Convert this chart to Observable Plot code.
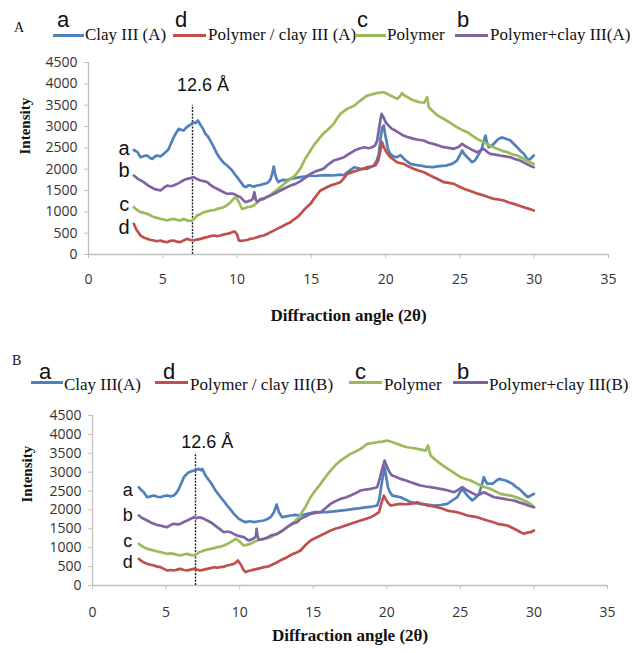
<!DOCTYPE html>
<html><head><meta charset="utf-8">
<script src="https://cdn.jsdelivr.net/npm/d3@7"></script>
<script src="https://cdn.jsdelivr.net/npm/@observablehq/plot@0.6"></script>
<style>
body{margin:0;background:#fff;}
#root{position:relative;width:632px;height:653px;overflow:hidden;background:#fff;}
.abs{position:absolute;white-space:nowrap;line-height:1;}
.ser{font-family:"Liberation Serif","Times New Roman",serif;font-size:17px;color:#111;}
.pan{font-family:"Liberation Serif","Times New Roman",serif;font-size:14px;color:#111;}
.let{font-family:"Liberation Sans",Arial,sans-serif;font-size:22px;color:#111;}
.sw{position:absolute;height:3px;}
svg{position:absolute;left:0;}
</style></head><body><div id="root"></div>
<script>
// ---------- data ----------
const xTicks = [0, 5, 10, 15, 20, 25, 30, 35];
const yTicks = [0, 500, 1000, 1500, 2000, 2500, 3000, 3500, 4000, 4500];
const keys = ["a", "d", "c", "b"];
const colors = ["#4F81BD", "#C0504D", "#9BBB59", "#8064A2"];
const namesA = ["Clay III (A)", "Polymer / clay III (A)", "Polymer", "Polymer+clay III(A)"];
const namesB = ["Clay III(A)", "Polymer / clay III(B)", "Polymer", "Polymer+clay III(B)"];
const xTitle = "Diffraction angle (2θ)";
const yTitle = "Intensity";
const peakLabel = "12.6 Å";
const peakX = 7, peakTop = 3500;

// Panel A
const aA = [[3.05,2450],[3.3,2400],[3.5,2280],[3.75,2310],[3.95,2320],[4.15,2260],[4.3,2240],[4.45,2290],[4.6,2320],[4.85,2300],[5.07,2360],[5.25,2420],[5.4,2476],[5.55,2600],[5.74,2750],[5.9,2850],[6.08,2945],[6.25,2920],[6.4,2905],[6.6,2980],[6.75,3020],[6.9,3050],[7.04,3100],[7.2,3080],[7.36,3140],[7.5,3060],[7.7,2950],[7.87,2827],[8.05,2760],[8.2,2670],[8.4,2540],[8.55,2437],[8.7,2330],[8.88,2240],[9.1,2150],[9.33,2085],[9.5,2030],[9.67,1968],[9.85,1880],[10,1812],[10.2,1720],[10.34,1656],[10.45,1600],[10.6,1578],[10.75,1620],[10.9,1617],[11.1,1590],[11.35,1617],[11.6,1630],[11.8,1656],[12.0,1670],[12.1,1695],[12.25,1760],[12.36,1890],[12.47,2060],[12.58,1851],[12.7,1740],[12.8,1695],[12.95,1730],[13.1,1750],[13.35,1740],[13.6,1773],[13.9,1790],[14.27,1812],[14.6,1830],[14.9,1851],[15.2,1840],[15.6,1851],[16.0,1860],[16.5,1851],[16.85,1870],[17.2,1860],[17.5,1950],[17.9,2046],[18.3,2010],[18.75,2007],[19.0,2050],[19.2,2085],[19.4,2200],[19.54,2359],[19.65,2700],[19.77,2983],[19.88,3022],[19.95,2850],[20.05,2671],[20.15,2480],[20.3,2359],[20.5,2300],[20.77,2280],[21.0,2330],[21.3,2220],[21.67,2124],[22.0,2100],[22.3,2085],[22.7,2060],[23.2,2046],[23.6,2070],[24.1,2085],[24.5,2130],[24.8,2202],[25.0,2330],[25.15,2437],[25.3,2350],[25.5,2280],[25.82,2163],[26.0,2200],[26.15,2280],[26.35,2400],[26.5,2515],[26.6,2650],[26.72,2788],[26.8,2650],[26.94,2515],[27.1,2540],[27.28,2593],[27.45,2660],[27.6,2710],[27.8,2740],[27.95,2733],[28.2,2700],[28.4,2671],[28.6,2600],[28.85,2515],[29.1,2420],[29.3,2359],[29.45,2280],[29.6,2202],[29.8,2260],[29.97,2320]];
const dA = [[3.05,719],[3.2,600],[3.5,445],[3.7,400],[3.95,367],[4.2,340],[4.4,328],[4.6,310],[4.85,328],[5.05,300],[5.3,289],[5.5,320],[5.74,328],[5.95,300],[6.19,289],[6.4,330],[6.64,367],[6.85,340],[7.09,328],[7.3,350],[7.54,367],[7.76,390],[7.99,406],[8.2,430],[8.43,445],[8.66,430],[8.88,445],[9.1,470],[9.33,484],[9.5,500],[9.67,523],[9.8,540],[9.89,523],[10.0,470],[10.12,328],[10.3,320],[10.45,328],[10.68,340],[10.9,367],[11.13,380],[11.35,406],[11.57,430],[11.8,445],[12.02,480],[12.25,523],[12.47,560],[12.7,601],[12.92,640],[13.15,680],[13.37,720],[13.6,758],[13.82,820],[14.05,875],[14.27,950],[14.6,1080],[14.94,1187],[15.25,1340],[15.61,1500],[15.95,1560],[16.29,1617],[16.6,1650],[16.96,1695],[17.2,1790],[17.41,1890],[17.75,1930],[18.08,1968],[18.4,2000],[18.75,2046],[19.0,2060],[19.31,2085],[19.5,2200],[19.65,2437],[19.76,2632],[19.88,2520],[19.99,2437],[20.15,2350],[20.32,2280],[20.55,2220],[20.77,2163],[21.0,2140],[21.22,2124],[21.55,2060],[21.89,2007],[22.2,1970],[22.57,1929],[22.9,1870],[23.24,1812],[23.6,1750],[23.91,1695],[24.25,1680],[24.59,1656],[24.9,1600],[25.26,1539],[25.6,1500],[25.93,1460],[26.25,1420],[26.61,1382],[26.95,1340],[27.28,1304],[27.6,1290],[27.95,1265],[28.3,1220],[28.63,1187],[28.95,1150],[29.3,1109],[29.65,1070],[29.97,1031]];
const cA = [[3.05,1109],[3.25,1050],[3.5,992],[3.7,980],[3.95,953],[4.15,920],[4.4,875],[4.6,860],[4.85,836],[5.05,820],[5.3,797],[5.5,820],[5.74,836],[5.95,810],[6.19,797],[6.4,830],[6.64,800],[6.8,790],[6.98,797],[7.15,850],[7.31,914],[7.55,950],[7.76,992],[8.0,1010],[8.2,1031],[8.45,1040],[8.66,1070],[8.9,1090],[9.1,1109],[9.35,1160],[9.56,1226],[9.75,1300],[9.89,1343],[10.0,1300],[10.12,1226],[10.25,1130],[10.34,1070],[10.5,1080],[10.68,1109],[10.9,1120],[11.13,1148],[11.35,1220],[11.57,1304],[11.8,1320],[12.02,1343],[12.25,1400],[12.47,1460],[12.7,1520],[12.92,1578],[13.25,1680],[13.6,1773],[13.9,1850],[14.27,2020],[14.6,2250],[14.94,2437],[15.25,2600],[15.6,2750],[15.8,2830],[16.05,2905],[16.3,2990],[16.5,3061],[16.75,3200],[16.96,3296],[17.2,3360],[17.4,3413],[17.65,3450],[17.9,3491],[18.1,3550],[18.3,3608],[18.5,3660],[18.75,3725],[18.95,3740],[19.2,3765],[19.5,3790],[19.88,3803],[20.1,3770],[20.3,3725],[20.55,3690],[20.77,3647],[20.95,3700],[21.1,3780],[21.3,3720],[21.67,3647],[22.0,3600],[22.3,3569],[22.6,3560],[22.8,3686],[22.9,3452],[23.2,3350],[23.5,3257],[23.8,3200],[24.1,3140],[24.45,3060],[24.8,2983],[25.15,2920],[25.5,2866],[25.85,2780],[26.15,2710],[26.5,2650],[26.8,2593],[27.15,2530],[27.5,2476],[27.85,2430],[28.2,2398],[28.5,2350],[28.85,2320],[29.2,2260],[29.5,2202],[29.75,2160],[29.97,2124]];
const bA = [[3.05,1850],[3.3,1780],[3.72,1695],[4.0,1620],[4.4,1540],[4.6,1520],[4.85,1500],[5.05,1560],[5.3,1617],[5.5,1600],[5.74,1617],[5.95,1650],[6.19,1695],[6.4,1740],[6.64,1773],[6.85,1790],[7.09,1812],[7.3,1770],[7.54,1734],[7.75,1720],[7.99,1700],[8.2,1630],[8.43,1578],[8.65,1540],[8.88,1500],[9.1,1460],[9.33,1421],[9.55,1430],[9.78,1421],[10.0,1380],[10.23,1343],[10.4,1280],[10.57,1226],[10.75,1250],[10.9,1265],[11.05,1300],[11.17,1460],[11.25,1300],[11.35,1230],[11.55,1280],[11.8,1304],[12.0,1350],[12.25,1382],[12.6,1440],[12.92,1500],[13.25,1560],[13.6,1617],[13.9,1650],[14.27,1720],[14.6,1800],[14.94,1890],[15.3,1950],[15.8,2007],[16.1,2100],[16.5,2202],[16.85,2240],[17.2,2280],[17.5,2350],[17.9,2437],[18.2,2480],[18.56,2515],[18.85,2490],[19.1,2515],[19.3,2560],[19.43,2671],[19.55,2950],[19.72,3296],[19.8,3250],[19.88,3200],[20.0,3100],[20.2,3022],[20.4,2950],[20.65,2905],[20.9,2850],[21.2,2788],[21.5,2750],[21.9,2710],[22.2,2690],[22.56,2671],[22.9,2620],[23.2,2593],[23.5,2560],[23.9,2515],[24.25,2500],[24.6,2476],[24.9,2520],[25.15,2593],[25.4,2530],[25.7,2476],[25.95,2430],[26.15,2398],[26.4,2440],[26.6,2476],[26.85,2400],[27.05,2359],[27.4,2340],[27.7,2320],[28.05,2300],[28.4,2280],[28.7,2240],[29.05,2202],[29.4,2140],[29.7,2085],[29.97,2046]];

// Panel B
const aB = [[3.15,2600],[3.3,2530],[3.49,2470],[3.72,2337],[3.95,2360],[4.17,2381],[4.4,2350],[4.62,2337],[4.85,2370],[5.08,2381],[5.3,2360],[5.53,2381],[5.7,2450],[5.87,2558],[6.05,2720],[6.21,2867],[6.4,2950],[6.55,3000],[6.7,3020],[6.89,3043],[7.05,3060],[7.23,3087],[7.35,3050],[7.46,3087],[7.57,3000],[7.68,2910],[7.85,2820],[8.02,2734],[8.2,2620],[8.36,2514],[8.55,2420],[8.7,2337],[8.93,2230],[9.15,2117],[9.4,2000],[9.61,1896],[9.78,1830],[9.95,1764],[10.15,1720],[10.4,1676],[10.7,1700],[10.97,1676],[11.3,1700],[11.65,1720],[11.9,1760],[12.1,1808],[12.33,1940],[12.51,2143],[12.67,1940],[12.89,1808],[13.15,1830],[13.46,1852],[13.8,1870],[14.14,1852],[14.6,1900],[15.05,1940],[15.5,1940],[15.95,1940],[16.4,1960],[16.86,1984],[17.3,2000],[17.77,2029],[18.2,2050],[18.67,2073],[19.0,2090],[19.35,2117],[19.5,2300],[19.65,2690],[19.85,3131],[19.95,2900],[20.08,2602],[20.2,2480],[20.37,2381],[20.65,2360],[20.94,2337],[21.3,2270],[21.62,2205],[21.95,2180],[22.3,2161],[22.75,2140],[23.2,2117],[23.65,2130],[24.11,2161],[24.45,2250],[24.79,2337],[24.95,2450],[25.13,2558],[25.3,2470],[25.47,2381],[25.81,2249],[26.05,2330],[26.27,2426],[26.45,2650],[26.6,2867],[26.7,2780],[26.83,2690],[27.0,2700],[27.17,2690],[27.4,2760],[27.63,2822],[27.85,2800],[28.08,2778],[28.3,2740],[28.54,2690],[28.75,2620],[28.99,2558],[29.2,2480],[29.45,2381],[29.6,2340],[29.79,2381],[30.0,2426]];
const dB = [[3.15,706],[3.4,630],[3.72,573],[3.95,550],[4.17,529],[4.4,500],[4.62,485],[4.85,440],[5.08,397],[5.3,410],[5.53,397],[5.75,420],[5.98,441],[6.2,410],[6.44,397],[6.65,420],[6.89,441],[7.1,420],[7.34,397],[7.57,420],[7.8,441],[8.02,460],[8.25,485],[8.47,470],[8.7,485],[8.93,500],[9.15,529],[9.38,550],[9.61,573],[9.75,610],[9.88,662],[10.0,600],[10.11,529],[10.25,420],[10.4,353],[10.55,380],[10.74,397],[10.97,420],[11.19,441],[11.4,460],[11.65,485],[11.9,500],[12.1,529],[12.3,570],[12.55,617],[12.9,690],[13.23,750],[13.55,820],[13.91,882],[14.14,926],[14.5,1080],[14.82,1191],[15.15,1260],[15.5,1323],[15.85,1390],[16.18,1455],[16.5,1500],[16.86,1544],[17.2,1590],[17.54,1632],[17.9,1680],[18.22,1720],[18.55,1760],[18.9,1808],[19.2,1870],[19.47,1940],[19.65,2200],[19.8,2381],[19.9,2300],[19.98,2249],[20.1,2180],[20.26,2117],[20.6,2140],[20.94,2161],[21.3,2150],[21.62,2161],[21.85,2180],[22.07,2205],[22.4,2160],[22.75,2117],[23.1,2100],[23.43,2073],[23.8,2030],[24.11,1984],[24.45,1960],[24.79,1940],[25.13,1900],[25.47,1852],[25.8,1830],[26.15,1808],[26.5,1760],[26.83,1720],[27.2,1680],[27.52,1632],[27.85,1610],[28.2,1588],[28.55,1520],[28.88,1455],[29.1,1410],[29.33,1367],[29.55,1400],[29.78,1411],[30.0,1455]];
const cB = [[3.15,1102],[3.4,1030],[3.72,970],[3.95,950],[4.17,926],[4.4,900],[4.62,882],[4.85,860],[5.08,838],[5.3,850],[5.53,838],[5.75,810],[5.98,794],[6.2,820],[6.44,838],[6.65,810],[6.89,794],[7.05,820],[7.23,882],[7.4,900],[7.57,926],[7.8,950],[8.02,970],[8.25,990],[8.47,1014],[8.7,1030],[8.93,1058],[9.15,1100],[9.38,1147],[9.6,1200],[9.72,1235],[9.83,1220],[9.95,1180],[10.11,1120],[10.29,1058],[10.5,1080],[10.74,1102],[10.97,1150],[11.19,1191],[11.4,1210],[11.65,1235],[11.9,1260],[12.1,1279],[12.3,1320],[12.55,1367],[12.9,1450],[13.23,1544],[13.46,1610],[13.69,1676],[13.91,1760],[14.14,1880],[14.5,2100],[14.82,2337],[15.15,2520],[15.5,2690],[15.85,2880],[16.18,3043],[16.5,3180],[16.86,3308],[17.2,3400],[17.54,3484],[17.9,3550],[18.22,3616],[18.45,3680],[18.67,3749],[19.0,3770],[19.35,3793],[19.7,3810],[20.03,3837],[20.35,3800],[20.71,3749],[21.05,3700],[21.39,3660],[21.75,3640],[22.07,3616],[22.4,3590],[22.64,3572],[22.8,3704],[22.98,3440],[23.3,3330],[23.66,3219],[24.0,3130],[24.34,3043],[24.7,2950],[25.02,2867],[25.35,2820],[25.7,2778],[26.05,2710],[26.38,2646],[26.7,2600],[27.06,2558],[27.4,2490],[27.74,2426],[28.1,2400],[28.42,2381],[28.75,2340],[29.1,2293],[29.45,2230],[29.78,2161],[30.0,2073]];
const bB = [[3.15,1852],[3.4,1780],[3.72,1720],[3.95,1670],[4.17,1632],[4.4,1600],[4.62,1588],[4.85,1560],[5.08,1544],[5.3,1600],[5.53,1632],[5.75,1620],[5.98,1632],[6.2,1680],[6.44,1720],[6.65,1760],[6.89,1808],[7.05,1780],[7.23,1808],[7.4,1790],[7.57,1764],[7.8,1720],[8.02,1676],[8.25,1610],[8.47,1544],[8.7,1480],[8.93,1411],[9.15,1430],[9.38,1411],[9.61,1360],[9.83,1323],[10.05,1300],[10.29,1279],[10.45,1230],[10.63,1191],[10.8,1220],[10.97,1250],[11.1,1300],[11.15,1500],[11.22,1300],[11.31,1210],[11.45,1220],[11.65,1235],[11.9,1270],[12.1,1323],[12.3,1340],[12.55,1367],[12.9,1450],[13.23,1544],[13.45,1600],[13.69,1650],[13.91,1676],[14.14,1764],[14.5,1830],[14.82,1896],[15.15,1920],[15.5,1940],[15.85,2050],[16.18,2161],[16.5,2230],[16.86,2293],[17.2,2330],[17.54,2381],[17.9,2450],[18.22,2514],[18.55,2540],[18.9,2558],[19.15,2580],[19.35,2602],[19.5,2800],[19.69,3087],[19.85,3308],[19.95,3200],[20.08,3087],[20.2,2990],[20.37,2911],[20.65,2870],[20.94,2822],[21.3,2780],[21.62,2734],[21.95,2690],[22.3,2646],[22.65,2620],[22.98,2602],[23.3,2580],[23.66,2558],[24.1,2520],[24.57,2470],[24.85,2530],[25.13,2602],[25.4,2530],[25.7,2470],[25.95,2420],[26.15,2381],[26.4,2430],[26.6,2470],[26.95,2400],[27.29,2337],[27.6,2320],[27.97,2293],[28.3,2270],[28.65,2249],[29.0,2200],[29.33,2161],[29.65,2110],[30.0,2073]];

// curve letter annotations [letter, x, y]
const lettersA = [["a",2.4,2480],["b",2.4,1970],["c",2.4,1160],["d",2.4,620]];
const lettersB = [["a",2.4,2515],["b",2.4,1850],["c",2.4,1160],["d",2.4,610]];
const peakLabelA = [7.7, 3960];
const peakLabelB = [7.8, 3790];

// ---------- drawing ----------
const root = document.getElementById("root");
const AXC = "#bfbfbf";
const TICKF = "'Open Sans', 'Liberation Sans', sans-serif";

function el(cls, html, left, top, extra) {
  const d = document.createElement("div");
  d.className = "abs " + cls;
  d.innerHTML = html;
  d.style.left = left + "px"; d.style.top = top + "px";
  if (extra) Object.assign(d.style, extra);
  root.appendChild(d);
  return d;
}
function legend(panel, names, geo) {
  el("pan", panel, geo.panel[0], geo.panel[1]);
  keys.forEach((k, i) => {
    const g = geo.items[i];
    const sw = document.createElement("div");
    sw.className = "sw";
    Object.assign(sw.style, {left: g.sw[0] + "px", width: g.sw[1] + "px", top: geo.swTop + "px", background: colors[i]});
    root.appendChild(sw);
    el("let", k, g.let, geo.letTop);
    el("ser", names[i], g.txt, geo.txtTop);
  });
}

function panel(series, letters, peakPos, o) {
  const data = series.flatMap((s, i) => s.map(([x, y]) => ({x, y, k: keys[i]})));
  const svg = Plot.plot({
    width: 632, height: o.height,
    marginLeft: o.ml, marginRight: o.mr, marginTop: o.mt, marginBottom: o.mb,
    x: {domain: [0, 35], axis: null},
    y: {domain: [0, 4500], axis: null},
    color: {domain: keys, range: colors},
    marks: [
      Plot.ruleY([0], {stroke: AXC, strokeWidth: 1.3}),
      Plot.ruleX([0], {y1: 0, y2: 4500, stroke: AXC, strokeWidth: 1.3}),
      Plot.axisX({ticks: xTicks, tickSize: 4, tickPadding: o.xpad, stroke: AXC, fill: "#333", fontSize: 14, fontFamily: TICKF, label: null, tickFormat: d => String(d)}),
      Plot.axisY({ticks: yTicks, tickSize: 4, tickPadding: 7, stroke: AXC, fill: "#333", fontSize: 14, fontFamily: TICKF, label: null, tickFormat: d => String(d)}),
      Plot.ruleX([peakX], {y1: 0, y2: peakTop, stroke: "#222", strokeWidth: 1.4, strokeDasharray: "2,1.3"}),
      Plot.line(data, {x: "x", y: "y", z: "k", stroke: "k", strokeWidth: 2.7, strokeLinejoin: "round"}),
      Plot.text(letters, {x: d => d[1], y: d => d[2], text: d => d[0], fontSize: o.letSize, fontFamily: "'Liberation Sans', Arial, sans-serif", fill: "#111"}),
      Plot.text([peakLabel], {x: peakPos[0], y: peakPos[1], text: d => d, fontSize: 18, fontFamily: "'Liberation Sans', Arial, sans-serif", fill: "#111"}),
      Plot.text([xTitle], {frameAnchor: "bottom", dy: o.titleDy, text: d => d, fontSize: 17, fontWeight: "bold", fontFamily: "'Liberation Serif', 'Times New Roman', serif", fill: "#111"}),
      Plot.text([yTitle], {frameAnchor: "left", rotate: -90, dx: o.ytDx, dy: o.ytDy, text: d => d, fontSize: 15, fontWeight: "bold", fontFamily: "'Liberation Serif', 'Times New Roman', serif", fill: "#111"})
    ]
  });
  svg.style.top = o.top + "px";
  svg.style.background = "transparent";
  root.appendChild(svg);
}

legend("A", namesA, {
  panel: [14, 21], swTop: 34, letTop: 9, txtTop: 26,
  items: [{sw: [53, 31], let: 57, txt: 85}, {sw: [173, 33], let: 175, txt: 208}, {sw: [355, 31], let: 357, txt: 387}, {sw: [455, 33], let: 457, txt: 490}]
});
legend("B", namesB, {
  panel: [12, 354], swTop: 381, letTop: 361, txtTop: 376,
  items: [{sw: [31, 32], let: 39, txt: 64}, {sw: [155, 33], let: 163, txt: 190}, {sw: [349, 33], let: 355, txt: 384}, {sw: [453, 35], let: 457, txt: 489}]
});

panel([aA, dA, cA, bA], lettersA, peakLabelA, {top: 45, height: 290, ml: 88, mr: 24, mt: 17, mb: 81, xpad: 16, titleDy: 66, ytDx: -63, ytDy: -4, letSize: 20});
panel([aB, dB, cB, bB], lettersB, peakLabelB, {top: 395, height: 258, ml: 92, mr: 25, mt: 20, mb: 68, xpad: 18, titleDy: 55, ytDx: -65, ytDy: 2, letSize: 18});
</script></body></html>
